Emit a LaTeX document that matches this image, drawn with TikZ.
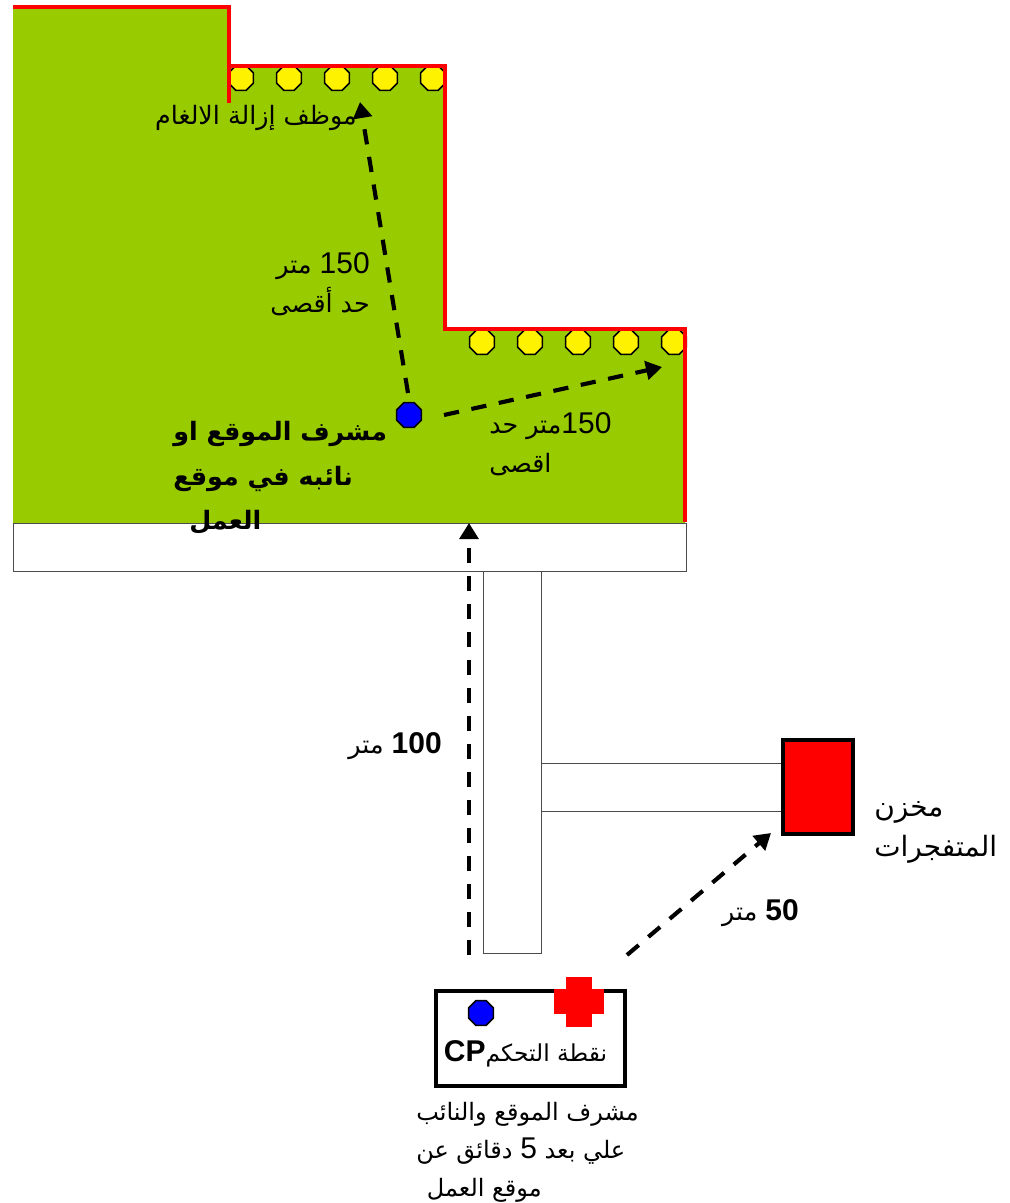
\documentclass[tikz,border=0pt]{standalone}
\usepackage{fontspec}
\usetikzlibrary{shapes.geometric,arrows.meta}
\TeXXeTstate=1
\setmainfont{Liberation Sans}
\newfontfamily\arabicfont[Script=Arabic]{DejaVu Sans}
\newcommand{\arline}[1]{\arabicfont\beginR #1\endR}
\newcommand{\latnum}[1]{\beginL{\normalfont\fontsize{22.5}{22.5}\selectfont #1}\endL{}}
\newcommand{\latbold}[1]{\beginL{\normalfont\fontsize{22.5}{22.5}\selectfont\bfseries #1}\endL{}}
\definecolor{fieldgreen}{RGB}{153,204,0}
\tikzset{
  lbl/.style={inner sep=0pt,font=\fontsize{19}{29}\selectfont},
  lblb/.style={inner sep=0pt,font=\fontsize{19}{33.5}\selectfont\bfseries},
  mine/.style={regular polygon,regular polygon sides=8,minimum size=20pt,inner sep=0pt,draw=black,line width=1.2pt,fill=yellow},
  person/.style={mine,fill=blue},
  road/.style={draw=black!70,line width=0.7pt,fill=white},
  redline/.style={draw=red,line width=2.4pt},
  dist/.style={draw=black,line width=3.1pt,dash pattern=on 11.5pt off 9.5pt,-{Triangle[width=14pt,length=12pt]}}
}
\begin{document}
\begin{tikzpicture}[x=0.75pt,y=-0.75pt]
\useasboundingbox (0,0) rectangle (1010,1203);
% field
\fill[fieldgreen] (13,7) -- (229,7) -- (229,66) -- (445,66) -- (445,329) -- (685,329) -- (685,523) -- (13,523) -- cycle;
% roads
\draw[road] (13,523) rectangle (686,571);
\draw[road] (483,571) rectangle (541,953);
\draw[road] (541,763) rectangle (781,811);
% mine-clearers
\foreach \n/\x in {a/241,b/289,c/337,d/385,e/433}
  \node[mine] (m\n) at (\x,78) {};
\foreach \n/\x in {a/482,b/530,c/578,d/626,e/674}
  \node[mine] (n\n) at (\x,342) {};
% boundary
\draw[redline] (13,7) -- (229,7) -- (229,103);
\draw[redline] (229,66) -- (445,66) -- (445,329) -- (685,329) -- (685,522);
% persons
\node[person] (sup) at (409,415) {};
% store
\node[draw=black,line width=2.8pt,fill=red,minimum width=53pt,minimum height=70pt,inner sep=0pt] (store) at (818,787) {};
% control point
\node[draw=black,line width=2.8pt,fill=white,minimum width=142pt,minimum height=71pt,inner sep=0pt] (cp) at (530.5,1038.5) {};
\node[person] (cpsup) at (481,1013) {};
\fill[red] (554,989) rectangle (604,1014);
\fill[red] (566,977) rectangle (592,1027);
% free connector ends
\coordinate (a1s) at (408,393);
\coordinate (a1e) at (360,102);
\coordinate (a2s) at (444,415);
\coordinate (a2e) at (662,367);
\coordinate (a3s) at (469,955);
\coordinate (a3e) at (469,523);
\coordinate (a4s) at (627,955);
\coordinate (a4e) at (771,833);
\draw[dist] (a1s) -- (a1e);
\draw[dist] (a2s) -- (a2e);
\draw[dist] (a3s) -- (a3e);
\draw[dist] (a4s) -- (a4e);
% labels
\node[lbl,anchor=east] (t1) at (357,118) {\arline{موظف إزالة الالغام}};
\node[lbl,anchor=east,align=right] (t2) at (370,284) {\arline{\latnum{150} متر}\\\arline{حد أقصى}};
\node[lbl,anchor=west,align=left] (t3) at (489,444) {\arline{\latnum{150}متر حد}\\\arline{اقصى}};
\node[lblb,anchor=west,align=left] (t4) at (173,478) {\arline{مشرف الموقع او}\\\arline{نائبه في موقع}\\\hspace*{12pt}\arline{العمل}};
\node[lbl,anchor=east] (t5) at (442,746) {\arline{\latbold{100} متر}};
\node[lbl,anchor=east] (t6) at (799,913) {\arline{\latbold{50} متر}};
\node[inner sep=0pt,font=\fontsize{21}{30}\selectfont,anchor=west,align=left] (t7) at (874,832) {\arline{مخزن}\\\arline{المتفجرات}};
\node[inner sep=0pt,font=\fontsize{17.5}{29}\selectfont,anchor=center] (t8) at (525.5,1054) {\arline{نقطة التحكم\latbold{CP}}};
\node[inner sep=0pt,font=\fontsize{18}{28.5}\selectfont,anchor=west,align=left] (t9) at (416,1152) {\arline{مشرف الموقع والنائب}\\\arline{علي بعد \latnum{5} دقائق عن}\\\hspace*{8pt}\arline{موقع العمل}};
\end{tikzpicture}
\end{document}
